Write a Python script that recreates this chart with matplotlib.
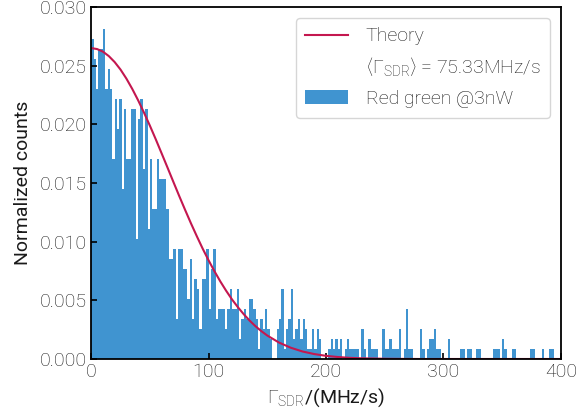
import numpy as np
import matplotlib
matplotlib.use('Agg')
import matplotlib.pyplot as plt
from matplotlib.lines import Line2D

plt.rcParams['font.family'] = ['Roboto', 'DejaVu Sans']
plt.rcParams['font.weight'] = 'light'
plt.rcParams['mathtext.fontset'] = 'custom'
plt.rcParams['mathtext.rm'] = 'Roboto:light'
plt.rcParams['mathtext.it'] = 'Roboto:light:italic'
plt.rcParams['mathtext.sf'] = 'Roboto:light'

# histogram: 2 MHz/s bins from 0 to 400, heights read in units of one count
bin_width = 2.0
counts = [
    32, 30, 27, 31, 31, 33, 27, 29, 27, 20,
    26, 23, 26, 17, 25, 20, 20, 25, 25, 12,
    24, 26, 19, 25, 13, 20, 15, 15, 20, 18,
    18, 18, 15, 10, 10, 11, 4, 11, 11, 9,
    9, 6, 10, 4, 8, 7, 3, 8, 8, 11,
    5, 9, 11, 4, 5, 5, 5, 3, 5, 7,
    5, 5, 7, 2, 4, 5, 4, 6, 6, 5,
    4, 1, 4, 3, 5, 3, 2, 0, 0, 3,
    4, 7, 1, 3, 4, 7, 2, 3, 4, 2,
    4, 3, 1, 1, 3, 1, 3, 2, 0, 0,
    0, 1, 2, 1, 2, 1, 2, 0, 1, 2,
    1, 1, 1, 1, 0, 3, 1, 0, 2, 1,
    1, 1, 0, 0, 3, 1, 1, 2, 1, 1,
    1, 3, 0, 1, 5, 1, 1, 0, 0, 0,
    3, 1, 0, 1, 2, 2, 3, 1, 1, 0,
    0, 0, 2, 0, 0, 0, 0, 1, 1, 0,
    1, 1, 0, 0, 1, 1, 0, 0, 0, 0,
    0, 1, 1, 1, 0, 2, 1, 0, 0, 1,
    1, 0, 0, 0, 0, 0, 0, 1, 1, 0,
    0, 0, 1, 0, 0, 1, 1, 0, 0, 0,
]
count_unit = 1.0 / 1172  # normalized height of one count

# theory curve
theory_x = [0, 5, 10, 15, 20, 25, 30, 35, 40, 45, 50, 55, 60, 65, 70, 75,
            80, 85, 90, 95, 100, 105, 110, 115, 120, 125, 130, 135, 140, 145,
            150, 160, 170, 180, 190, 200, 210, 220, 230, 240, 250, 260, 280,
            300, 350, 400]
theory_y = [0.02650, 0.02642, 0.02620, 0.02582, 0.02531, 0.02467, 0.02390,
            0.02302, 0.02205, 0.02100, 0.01989, 0.01873, 0.01753, 0.01632,
            0.01510, 0.01389, 0.01271, 0.01156, 0.01046, 0.00940, 0.00841,
            0.00748, 0.00661, 0.00581, 0.00507, 0.00441, 0.00381, 0.00327,
            0.00279, 0.00237, 0.00200, 0.00140, 0.00096, 0.00064, 0.00042,
            0.00027, 0.00017, 0.00010, 0.00006, 0.00004, 0.00002, 0.00001,
            0.0, 0.0, 0.0, 0.0]

mean_label = r'$\langle\Gamma_{\rm SDR}\rangle$ = 75.33MHz/s'

BLUE = '#4094d0'
RED = '#c4174f'
TXT = '#1a1a1a'

counts = np.array(counts, dtype=float)
edges = np.arange(len(counts) + 1) * bin_width
centers = edges[:-1] + bin_width / 2

fig = plt.figure(figsize=(5.77, 4.19), dpi=100)
ax = fig.add_axes([0.158, 0.1432, 0.814, 0.84])

ax.hist(centers, bins=edges, weights=counts * count_unit, color=BLUE,
        linewidth=0, label='Red green @3nW')
ax.plot(theory_x, theory_y, color=RED, lw=1.5, label='Theory')

ax.set_xlim(0, 400)
ax.set_ylim(0, 0.030)
ax.set_xticks([0, 100, 200, 300, 400])
ax.set_yticks(np.arange(0, 0.0301, 0.005))
ax.yaxis.set_major_formatter(matplotlib.ticker.FormatStrFormatter('%.3f'))
ax.tick_params(direction='in', length=4, width=1.2, labelsize=14,
               labelcolor=TXT, pad=3)
for s in ax.spines.values():
    s.set_linewidth(1.3)

ax.set_xlabel(r'$\Gamma_{\rm SDR}$/(MHz/s)', fontsize=14, color=TXT, labelpad=4)
ax.set_ylabel('Normalized counts', fontsize=14, color=TXT, labelpad=6)

h, l = ax.get_legend_handles_labels()
theory_h = h[l.index('Theory')]
hist_h = h[l.index('Red green @3nW')]
blank = Line2D([], [], linestyle='none', marker=None)
leg = ax.legend([theory_h, blank, hist_h],
                ['Theory', mean_label, 'Red green @3nW'],
                loc='upper right', fontsize=14, frameon=True, fancybox=True,
                handlelength=2.2, handletextpad=0.9, labelspacing=0.55,
                borderaxespad=0.55, borderpad=0.5)
leg.get_frame().set_edgecolor('#cccccc')
for t in leg.get_texts():
    t.set_color(TXT)

fig.savefig('out.png', dpi=100)
